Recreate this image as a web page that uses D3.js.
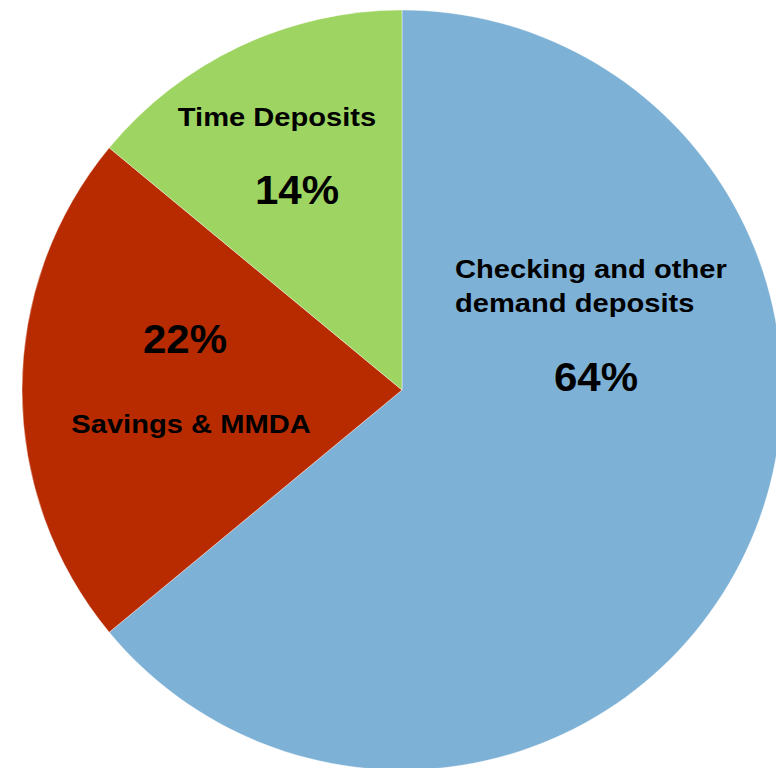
<!DOCTYPE html>
<html>
<head>
<meta charset="utf-8">
<script src="https://cdn.jsdelivr.net/npm/d3@7.9.0/dist/d3.min.js"></script>
<style>
  html, body { margin: 0; padding: 0; background: #fff; overflow: hidden; }
  text { font-family: "Liberation Sans", Arial, sans-serif; font-weight: bold; fill: #000; }
</style>
</head>
<body>
<div id="chart"></div>
<script>
// deposit mix
const categories = ['Checking and other demand deposits', 'Savings & MMDA', 'Time Deposits'];
const shares = [64, 22, 14];
const colors = ['#7EB1D6', '#B82B00', '#9ED461'];

const width = 776;
const height = 768;
const cx = 402;
const cy = 390;
const radius = 380;

const svg = d3.select('#chart')
  .append('svg')
  .attr('width', width)
  .attr('height', height);

const g = svg.append('g')
  .attr('transform', `translate(${cx}, ${cy})`);

const pie = d3.pie()
  .sort(null)
  .value(d => d.value);

const arc = d3.arc()
  .innerRadius(0)
  .outerRadius(radius);

const data = categories.map((c, i) => ({ name: c, value: shares[i], color: colors[i] }));

g.selectAll('path')
  .data(pie(data))
  .join('path')
  .attr('d', arc)
  .attr('fill', d => d.data.color)
  .attr('stroke', '#fff')
  .attr('stroke-opacity', 0.5)
  .attr('stroke-width', 0.8);

// label placement, relative to the pie centre
const labelLayout = [
  { name: { lines: ['Checking and other', 'demand deposits'], x: 53, y: -112, anchor: 'start' }, pct: { x: 194, y: 1 } },
  { name: { lines: ['Savings & MMDA'], x: -211, y: 43, anchor: 'middle' }, pct: { x: -217, y: -37 } },
  { name: { lines: ['Time Deposits'], x: -125, y: -264, anchor: 'middle' }, pct: { x: -105, y: -186 } }
];

// the source text is a little wider than plain Arial
const nameStretch = 1.12;
const pctStretch = 1.05;

data.forEach((d, i) => {
  const L = labelLayout[i];
  const t = g.append('text')
    .attr('transform', `translate(${L.name.x}, ${L.name.y}) scale(${nameStretch}, 1)`)
    .attr('text-anchor', L.name.anchor)
    .style('font-size', '26px');
  L.name.lines.forEach((line, j) => {
    t.append('tspan')
      .attr('x', 0)
      .attr('dy', j === 0 ? 0 : 34)
      .text(line);
  });

  g.append('text')
    .attr('transform', `translate(${L.pct.x}, ${L.pct.y}) scale(${pctStretch}, 1)`)
    .attr('text-anchor', 'middle')
    .style('font-size', '40px')
    .text(`${d.value}%`);
});
</script>
</body>
</html>
